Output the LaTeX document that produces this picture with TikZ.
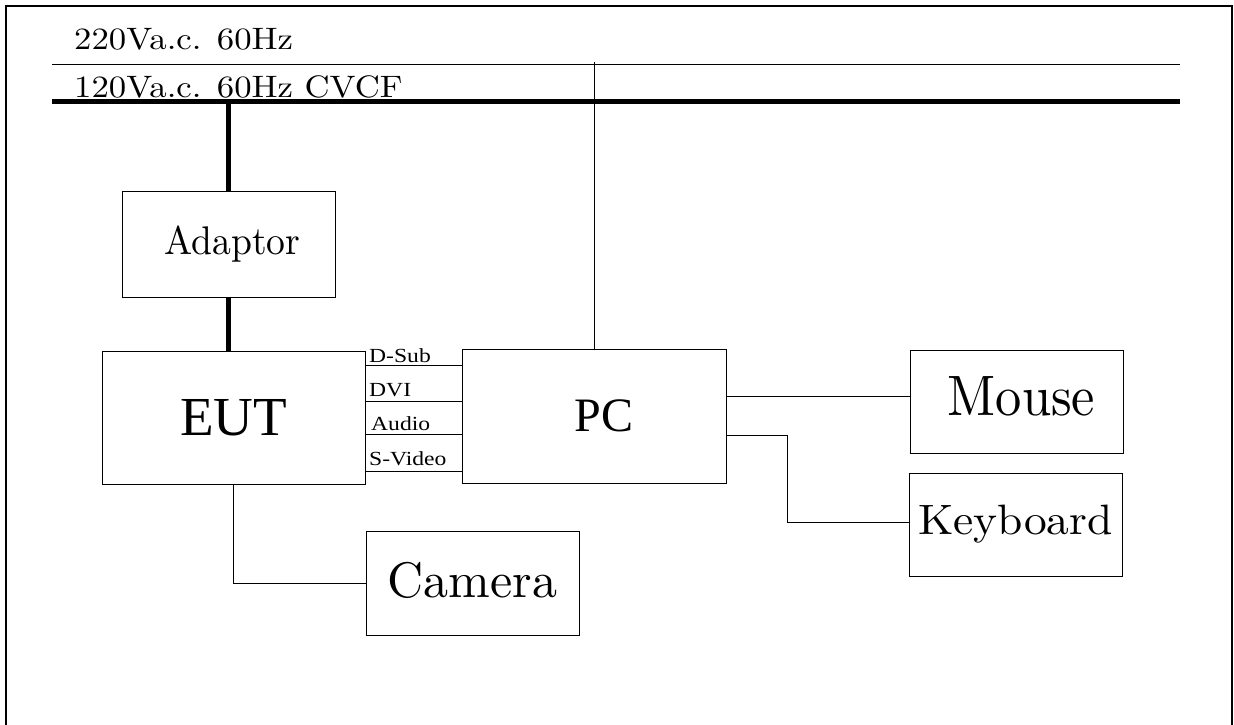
\documentclass[tikz,border=0pt]{standalone}
\usepackage{fontspec}
\setmainfont{Liberation Serif}
\newfontfamily\fTop[FakeStretch=1.12]{lmroman10-regular.otf}
\newfontfamily\fLab[FakeStretch=1.18]{Liberation Serif}
\newfontfamily\fAd[FakeStretch=0.94]{lmroman10-regular.otf}
\newfontfamily\fMouse[FakeStretch=0.92]{lmroman10-regular.otf}
\newfontfamily\fKey[FakeStretch=1.07]{lmroman10-regular.otf}
\newfontfamily\fCam{lmroman10-regular.otf}
\begin{document}
\begin{tikzpicture}[x=1pt,y=-1pt,
  box/.style={draw,line width=1pt,inner sep=0pt,minimum width=#1},
  thin/.style={line width=1pt},
  thick/.style={line width=4.5pt},
  toptext/.style={anchor=base west,inner sep=0pt,font=\fTop\fontsize{31}{36}\selectfont},
  cabletext/.style={anchor=base west,inner sep=0pt,font=\fLab\fontsize{20}{22}\selectfont}]
\useasboundingbox (0,0) rectangle (1234,724);
% frame
\draw[line width=2.5pt] (6,730) -- (6,6) -- (1232,6) -- (1232,730);
% mains lines
\coordinate (L1a) at (52,64);
\coordinate (L1b) at (1180,64);
\coordinate (L2a) at (52,101.5);
\coordinate (L2b) at (1180,101.5);
\draw[thin] (L1a) -- (L1b);
\draw[line width=5pt] (L2a) -- (L2b);
\node[toptext] (t220) at (74,49) {220Va.c. 60Hz};
\node[toptext] (t120) at (74,97) {120Va.c. 60Hz CVCF};
% boxes
\node[box=213pt,minimum height=106pt,font=\fAd\fontsize{40}{44}\selectfont] (Adaptor) at (228.5,244) {\hspace*{8pt}Adaptor};
\node[box=263pt,minimum height=133pt,font=\fontsize{55}{60}\selectfont] (EUT) at (233.5,417.5) {EUT};
\node[box=264pt,minimum height=134pt,font=\fontsize{48}{52}\selectfont] (PC) at (594,416) {\hspace*{20pt}PC};
\node[box=213pt,minimum height=103pt,text depth=10pt,font=\fMouse\fontsize{57}{62}\selectfont] (Mouse) at (1016.5,401.5) {\hspace*{10pt}Mouse};
\node[box=213pt,minimum height=103pt,font=\fKey\fontsize{42.5}{48}\selectfont] (Keyboard) at (1015.5,524.5) {Keyboard};
\node[box=213pt,minimum height=104pt,text depth=6pt,font=\fCam\fontsize{50}{54}\selectfont] (Camera) at (472.5,583) {Camera};
% power connections
\draw[thick] (Adaptor.north |- L2a) -- (Adaptor.north);
\draw[thick] (Adaptor.south) -- (Adaptor.south |- EUT.north);
\draw[thin] (PC.north) -- (PC.north |- 0,62);
% EUT to PC cables
\coordinate (c1) at (0,365);
\coordinate (c2) at (0,401);
\coordinate (c3) at (0,434);
\coordinate (c4) at (0,471);
\draw[thin] (EUT.east |- c1) -- (PC.west |- c1);
\draw[thin] (EUT.east |- c2) -- (PC.west |- c2);
\draw[thin] (EUT.east |- c3) -- (PC.west |- c3);
\draw[thin] (EUT.east |- c4) -- (PC.west |- c4);
\node[cabletext] (dsub) at (369,362) {D-Sub};
\node[cabletext] (dvi) at (369,396) {DVI};
\node[cabletext] (audio) at (371,430) {Audio};
\node[cabletext] (svideo) at (369,465) {S-Video};
% peripherals
\coordinate (m1) at (0,396);
\draw[thin] (PC.east |- m1) -- (Mouse.west |- m1);
\coordinate (k1) at (0,435);
\coordinate (k2) at (787,522);
\draw[thin] (PC.east |- k1) -| (k2) -- (Keyboard.west |- k2);
\draw[thin] (EUT.south) |- (Camera.west);
\end{tikzpicture}
\end{document}
